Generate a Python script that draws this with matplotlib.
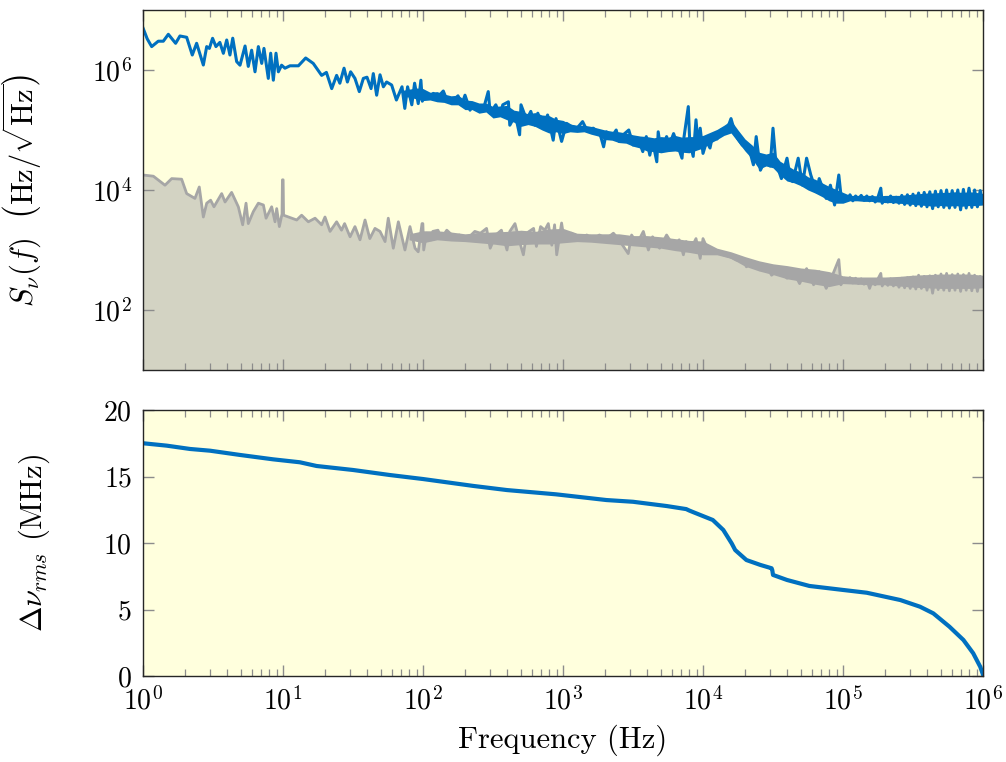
import numpy as np
import matplotlib
matplotlib.use('Agg')
import matplotlib.pyplot as plt

plt.rcParams['font.family'] = 'serif'
plt.rcParams['font.serif'] = ['cmr10']
plt.rcParams['mathtext.fontset'] = 'cm'
plt.rcParams['axes.unicode_minus'] = False
plt.rcParams['axes.formatter.use_mathtext'] = True

# --- spectrum of laser frequency noise (log10 f, log10 S) ---
blue_logf = [0.0, 0.03, 0.062, 0.109, 0.145, 0.181, 0.233, 0.264, 0.312, 0.352,
             0.383, 0.431, 0.455, 0.474, 0.497, 0.521, 0.549, 0.574, 0.598, 0.621,
             0.641, 0.669, 0.693, 0.729, 0.752, 0.776, 0.80, 0.824, 0.848, 0.864,
             0.895, 0.912, 0.931, 0.95, 0.967, 0.99, 1.014, 1.05, 1.11, 1.162,
             1.216, 1.276, 1.31, 1.348, 1.383, 1.406, 1.436, 1.46, 1.483, 1.514,
             1.545, 1.574, 1.60, 1.629, 1.645, 1.669, 1.693, 1.717, 1.74, 1.776,
             1.81, 1.85, 1.87, 1.89, 1.92, 1.94, 1.966, 1.985, 1.995, 2.01,
             2.026, 2.05, 2.074, 2.09, 2.11, 2.145, 2.17, 2.217, 2.25, 2.276,
             2.30, 2.336, 2.36, 2.383, 2.42, 2.44, 2.466, 2.48, 2.52, 2.55,
             2.57, 2.61, 2.62, 2.66, 2.69, 2.70, 2.74, 2.77, 2.80, 2.82,
             2.86, 2.89, 2.93, 2.95, 2.99, 3.026, 3.06, 3.10, 3.14, 3.17,
             3.216, 3.264, 3.29, 3.31, 3.35, 3.38, 3.40, 3.43, 3.47, 3.50,
             3.535, 3.57, 3.595, 3.62, 3.64, 3.67, 3.68, 3.70, 3.74, 3.76,
             3.79, 3.85, 3.86, 3.895, 3.905, 3.93, 3.95, 3.965, 3.98, 4.0,
             4.026, 4.05, 4.07, 4.10, 4.13, 4.16, 4.18, 4.20, 4.23, 4.25,
             4.28, 4.31, 4.335, 4.36, 4.38, 4.41, 4.45, 4.48, 4.50, 4.52,
             4.56, 4.60, 4.62, 4.64, 4.68, 4.71, 4.74, 4.77, 4.81, 4.83,
             4.86, 4.88, 4.91, 4.94, 4.97, 4.99, 5.01, 5.03, 5.05, 5.07,
             5.09, 5.11, 5.13, 5.15, 5.17, 5.19, 5.21, 5.23, 5.25, 5.27,
             5.28, 5.30, 5.32, 5.34, 5.36, 5.38, 5.40, 5.42, 5.44, 5.46,
             5.48, 5.50, 5.52, 5.54, 5.56, 5.58, 5.60, 5.62, 5.64, 5.66,
             5.68, 5.70, 5.72, 5.74, 5.76, 5.78, 5.80, 5.82, 5.84, 5.86,
             5.88, 5.90, 5.92, 5.94, 5.96, 5.98, 6.0]
blue_logS = [6.70, 6.52, 6.39, 6.48, 6.48, 6.595, 6.445, 6.567, 6.545, 6.25,
             6.445, 6.083, 6.39, 6.36, 6.528, 6.39, 6.46, 6.278, 6.50, 6.25,
             6.53, 6.14, 6.08, 6.40, 6.06, 6.33, 5.97, 6.39, 6.11, 6.36,
             5.86, 6.28, 5.83, 6.28, 5.97, 6.08, 6.03, 6.07, 6.07, 6.20,
             6.11, 5.91, 5.96, 5.69, 5.91, 5.78, 6.03, 5.80, 5.97, 5.86,
             5.64, 5.86, 5.88, 5.69, 5.94, 5.58, 5.92, 5.72, 5.80, 5.75,
             5.50, 5.72, 5.36, 5.72, 5.42, 5.78, 5.44, 5.83, 5.48, 5.62,
             5.58, 5.53, 5.61, 5.58, 5.56, 5.65, 5.50, 5.49, 5.57, 5.42,
             5.58, 5.33, 5.44, 5.36, 5.31, 5.42, 5.64, 5.28, 5.42, 5.25,
             5.42, 5.47, 5.08, 5.25, 4.92, 5.42, 5.17, 5.31, 5.08, 5.28,
             5.03, 5.25, 4.83, 5.19, 4.81, 5.11, 5.06, 5.03, 5.14, 5.00,
             5.03, 4.94, 4.72, 4.97, 4.89, 5.00, 4.81, 4.92, 5.00, 4.75,
             4.86, 4.64, 4.89, 4.58, 4.81, 4.47, 4.97, 4.64, 4.89, 4.75,
             4.94, 4.53, 4.81, 5.39, 4.81, 4.56, 5.17, 4.75, 5.03, 4.61,
             4.81, 4.70, 4.92, 4.85, 5.00, 4.95, 5.06, 5.19, 4.94, 4.85,
             4.75, 4.70, 4.64, 4.42, 4.89, 4.33, 4.53, 4.40, 5.03, 4.47,
             4.19, 4.53, 4.25, 4.14, 4.53, 4.08, 4.53, 4.25, 3.97, 4.19,
             4.00, 3.86, 4.08, 3.75, 4.25, 3.81, 3.89, 3.84, 3.92, 3.82,
             3.90, 3.85, 3.91, 3.83, 3.90, 3.82, 3.89, 3.80, 3.88, 4.03,
             3.78, 3.86, 3.80, 3.90, 3.79, 3.88, 3.78, 3.91, 3.76, 3.92,
             3.75, 3.93, 3.74, 3.95, 3.73, 3.96, 3.72, 3.97, 3.69, 3.98,
             3.72, 3.99, 3.71, 4.00, 3.70, 3.99, 3.71, 4.00, 3.67, 4.01,
             3.70, 4.03, 3.71, 4.00, 3.72, 3.99, 3.78]

# solid core of the blue trace where the samples are too dense to separate
blue_band_logf = [1.85, 1.90, 1.95, 2.00, 2.05, 2.10, 2.15, 2.20, 2.25, 2.30,
                  2.35, 2.40, 2.45, 2.50, 2.55, 2.60, 2.65, 2.70, 2.75, 2.80,
                  2.85, 2.90, 2.95, 3.00, 3.05, 3.10, 3.15, 3.20, 3.25, 3.30,
                  3.35, 3.40, 3.45, 3.50, 3.55, 3.60, 3.65, 3.70, 3.75, 3.80,
                  3.85, 3.90, 3.95, 4.00, 4.05, 4.10, 4.15, 4.20, 4.25, 4.30,
                  4.35, 4.40, 4.45, 4.50, 4.55, 4.60, 4.65, 4.70, 4.75, 4.80,
                  4.85, 4.90, 4.95, 5.00, 5.05, 5.10, 5.15, 5.20, 5.25, 5.30,
                  5.35, 5.40, 5.45, 5.50, 5.55, 5.60, 5.65, 5.70, 5.75, 5.80,
                  5.85, 5.90, 5.95, 6.00]
blue_band_lo = [5.56, 5.55, 5.52, 5.49, 5.50, 5.47, 5.46, 5.42, 5.42, 5.34,
                5.34, 5.28, 5.30, 5.20, 5.22, 5.17, 5.13, 5.06, 5.09, 5.06,
                5.00, 4.95, 4.97, 4.94, 4.97, 4.96, 4.97, 4.93, 4.90, 4.84,
                4.83, 4.79, 4.78, 4.73, 4.70, 4.65, 4.64, 4.62, 4.64, 4.65,
                4.63, 4.62, 4.66, 4.70, 4.78, 4.84, 4.91, 4.95, 4.80, 4.65,
                4.52, 4.35, 4.40, 4.37, 4.25, 4.15, 4.12, 4.07, 4.00, 3.95,
                3.89, 3.82, 3.78, 3.78, 3.82, 3.82, 3.81, 3.81, 3.80, 3.79,
                3.79, 3.78, 3.77, 3.76, 3.75, 3.74, 3.73, 3.74, 3.73, 3.74,
                3.73, 3.74, 3.74, 3.75]
blue_band_hi = [5.66, 5.68, 5.70, 5.69, 5.63, 5.64, 5.60, 5.57, 5.58, 5.50,
                5.49, 5.45, 5.45, 5.39, 5.40, 5.41, 5.33, 5.31, 5.27, 5.29,
                5.25, 5.24, 5.18, 5.16, 5.10, 5.08, 5.08, 5.06, 5.03, 5.00,
                4.98, 4.97, 4.95, 4.92, 4.90, 4.89, 4.87, 4.89, 4.88, 4.91,
                4.88, 4.89, 4.89, 4.91, 4.96, 5.01, 5.08, 5.16, 5.00, 4.85,
                4.75, 4.63, 4.60, 4.63, 4.48, 4.41, 4.34, 4.30, 4.22, 4.18,
                4.12, 4.06, 4.01, 3.96, 3.91, 3.91, 3.91, 3.91, 3.90, 3.91,
                3.91, 3.91, 3.92, 3.93, 3.94, 3.95, 3.95, 3.96, 3.96, 3.97,
                3.96, 3.97, 3.96, 3.94]

# --- measurement noise floor ---
gray_logf = [0.0, 0.074, 0.157, 0.205, 0.276, 0.312, 0.371, 0.402, 0.431, 0.455,
             0.483, 0.507, 0.562, 0.586, 0.633, 0.681, 0.712, 0.736, 0.752, 0.788,
             0.824, 0.86, 0.879, 0.919, 0.943, 0.955, 0.974, 0.993, 0.996, 1.001,
             1.004, 1.062, 1.098, 1.133, 1.181, 1.229, 1.276, 1.30, 1.336, 1.383,
             1.418, 1.44, 1.479, 1.514, 1.55, 1.586, 1.62, 1.657, 1.693, 1.729,
             1.752, 1.788, 1.824, 1.871, 1.907, 1.943, 1.966, 1.993, 1.999, 2.005,
             2.026, 2.06, 2.07, 2.107, 2.13, 2.17, 2.22, 2.26, 2.31, 2.37,
             2.41, 2.454, 2.48, 2.52, 2.56, 2.60, 2.62, 2.657, 2.69, 2.717,
             2.74, 2.79, 2.81, 2.84, 2.87, 2.895, 2.92, 2.94, 2.955, 2.99,
             3.01, 3.06, 3.12, 3.17, 3.21, 3.26, 3.31, 3.36, 3.40, 3.466,
             3.49, 3.53, 3.574, 3.61, 3.64, 3.69, 3.74, 3.79, 3.83, 3.86,
             3.88, 3.91, 3.95, 3.98, 4.00, 4.03, 4.07, 4.10, 4.145, 4.19,
             4.24, 4.29, 4.31, 4.36, 4.41, 4.45, 4.49, 4.55, 4.60, 4.64,
             4.69, 4.74, 4.79, 4.83, 4.88, 4.93, 4.97, 4.985, 5.01, 5.03,
             5.05, 5.07, 5.09, 5.11, 5.13, 5.15, 5.17, 5.19, 5.21, 5.23,
             5.25, 5.27, 5.28, 5.30, 5.32, 5.34, 5.36, 5.38, 5.40, 5.42,
             5.44, 5.46, 5.48, 5.50, 5.52, 5.54, 5.56, 5.58, 5.60, 5.62,
             5.64, 5.66, 5.68, 5.70, 5.72, 5.74, 5.76, 5.78, 5.80, 5.82,
             5.84, 5.86, 5.88, 5.90, 5.92, 5.94, 5.96, 5.98, 6.0]
gray_logS = [4.25, 4.23, 4.08, 4.19, 4.18, 3.94, 3.86, 4.05, 3.55, 3.78,
             3.83, 3.72, 3.94, 3.80, 3.96, 3.72, 3.42, 3.78, 3.44, 3.64,
             3.78, 3.75, 3.53, 3.72, 3.47, 3.69, 3.39, 3.60, 4.17, 4.17,
             3.58, 3.53, 3.50, 3.58, 3.47, 3.53, 3.42, 3.55, 3.31, 3.47,
             3.33, 3.44, 3.22, 3.39, 3.17, 3.50, 3.19, 3.36, 3.31, 3.14,
             3.53, 3.03, 3.47, 3.00, 3.39, 3.03, 2.97, 3.44, 3.44, 3.00,
             3.28, 3.17, 3.31, 3.33, 3.19, 3.33, 3.22, 3.25, 3.17, 3.31,
             3.28, 3.36, 3.03, 3.25, 3.33, 3.00, 3.31, 3.44, 3.14, 2.92,
             3.28, 3.36, 3.06, 3.39, 3.33, 3.44, 3.08, 3.42, 2.92, 3.45,
             3.14, 3.28, 3.19, 3.25, 3.17, 3.25, 3.19, 3.28, 3.17, 2.94,
             3.25, 3.11, 3.31, 3.00, 3.22, 3.03, 3.25, 3.06, 3.17, 2.92,
             3.14, 3.00, 3.19, 2.86, 3.19, 3.03, 3.00, 2.97, 2.92, 2.89,
             2.83, 2.86, 2.72, 2.81, 2.67, 2.75, 2.58, 2.69, 2.53, 2.67,
             2.44, 2.69, 2.42, 2.64, 2.36, 2.61, 2.84, 2.42, 2.53, 2.47,
             2.54, 2.45, 2.53, 2.44, 2.52, 2.43, 2.51, 2.36, 2.50, 2.42,
             2.52, 2.61, 2.40, 2.50, 2.41, 2.52, 2.40, 2.51, 2.38, 2.53,
             2.37, 2.54, 2.36, 2.55, 2.35, 2.58, 2.36, 2.56, 2.33, 2.57,
             2.28, 2.58, 2.34, 2.60, 2.33, 2.61, 2.32, 2.59, 2.33, 2.60,
             2.31, 2.59, 2.33, 2.61, 2.32, 2.58, 2.31, 2.56, 2.40]

gray_band_logf = [1.9, 2.0, 2.1, 2.2, 2.3, 2.4, 2.5, 2.6, 2.7, 2.8,
                  2.9, 3.0, 3.1, 3.2, 3.3, 3.4, 3.5, 3.6, 3.7, 3.8,
                  3.9, 4.0, 4.1, 4.2, 4.3, 4.4, 4.5, 4.6, 4.7, 4.8,
                  4.9, 5.0, 5.1, 5.2, 5.3, 5.4, 5.5, 5.6, 5.7, 5.8, 5.9, 6.0]
gray_band_lo = [3.17, 3.12, 3.17, 3.15, 3.14, 3.12, 3.10, 3.07, 3.09, 3.10,
                3.10, 3.12, 3.14, 3.13, 3.11, 3.09, 3.07, 3.05, 3.03, 2.99,
                2.96, 2.92, 2.92, 2.86, 2.73, 2.65, 2.59, 2.52, 2.48, 2.43,
                2.39, 2.44, 2.43, 2.42, 2.42, 2.40, 2.38, 2.37, 2.36, 2.36, 2.36, 2.37]
gray_band_hi = [3.27, 3.32, 3.32, 3.30, 3.27, 3.29, 3.30, 3.31, 3.33, 3.31,
                3.35, 3.36, 3.28, 3.27, 3.27, 3.27, 3.24, 3.24, 3.22, 3.19,
                3.16, 3.15, 3.03, 2.97, 2.89, 2.82, 2.77, 2.74, 2.70, 2.68,
                2.64, 2.57, 2.55, 2.55, 2.55, 2.56, 2.58, 2.59, 2.60, 2.60, 2.60, 2.58]

# --- integrated rms linewidth (MHz) ---
rms_logf = [0, 0.169, 0.336, 0.479, 0.693, 0.93, 1.12, 1.24, 1.5, 1.764,
            2.0, 2.36, 2.6, 2.95, 3.31, 3.5, 3.74, 3.88, 3.9, 3.93,
            4.07, 4.145, 4.205, 4.23, 4.31, 4.41, 4.49, 4.495, 4.5, 4.6,
            4.76, 5.0, 5.17, 5.41, 5.55, 5.645, 5.76, 5.86, 5.93, 5.98, 6.0]
rms_mhz = [17.5, 17.32, 17.07, 16.94, 16.62, 16.29, 16.07, 15.79, 15.49, 15.11,
           14.81, 14.29, 13.98, 13.66, 13.23, 13.1, 12.78, 12.55, 12.45, 12.32,
           11.73, 10.98, 9.97, 9.47, 8.72, 8.35, 8.1, 7.95, 7.6, 7.22,
           6.77, 6.47, 6.26, 5.71, 5.21, 4.71, 3.71, 2.71, 1.71, 0.7, 0.1]

blue = '#0070C0'
gray_line = '#A6A6A6'
gray_fill = '#D3D3C3'
bg = '#FFFFDD'

fig = plt.figure(figsize=(10.06, 7.62), dpi=100)
ax1 = fig.add_axes([143/1006, 1-370/762, 840/1006, 360/762])
ax2 = fig.add_axes([143/1006, 1-676/762, 840/1006, 266/762])

tf = lambda v: 10**np.asarray(v, dtype=float)

ax1.set_facecolor(bg)
ax1.fill_between(tf(gray_logf), 10, tf(gray_logS), color=gray_fill, lw=0)
ax1.fill_between(tf(gray_band_logf), tf(gray_band_lo), tf(gray_band_hi), color=gray_line, lw=0)
ax1.plot(tf(gray_logf), tf(gray_logS), color=gray_line, lw=2.0)
ax1.fill_between(tf(blue_band_logf), tf(blue_band_lo), tf(blue_band_hi), color=blue, lw=0)
ax1.plot(tf(blue_logf), tf(blue_logS), color=blue, lw=2.2)

ax1.set_xscale('log')
ax1.set_yscale('log')
ax1.set_xlim(1, 1e6)
ax1.set_ylim(10, 1e7)
ax1.set_yticks([1e2, 1e4, 1e6])
ax1.yaxis.set_minor_locator(matplotlib.ticker.NullLocator())
ax1.tick_params(labelbottom=False)
ax1.set_ylabel(r'$S_\nu(f)\ \ \left(\mathrm{Hz}/\sqrt{\mathrm{Hz}}\right)$', fontsize=22)
ax1.yaxis.set_label_coords(-0.118, 0.5)

ax2.set_facecolor(bg)
ax2.plot(tf(rms_logf), rms_mhz, color=blue, lw=3)
ax2.set_xscale('log')
ax2.set_xlim(1, 1e6)
ax2.set_ylim(0, 20)
ax2.set_yticks([0, 5, 10, 15, 20])
ax2.set_ylabel(r'$\Delta\nu_{rms}$ (MHz)', fontsize=22)
ax2.yaxis.set_label_coords(-0.108, 0.5)
ax2.set_xlabel('Frequency (Hz)', fontsize=22, labelpad=6)

for ax in (ax1, ax2):
    ax.xaxis.set_minor_locator(matplotlib.ticker.LogLocator(base=10, subs=np.arange(2, 10), numticks=20))
    ax.tick_params(which='both', direction='in', top=True, right=True,
                   color='#8C8C8C', labelsize=20, pad=8)
    ax.tick_params(which='major', length=8, width=1)
    ax.tick_params(which='minor', length=5, width=0.9)
    for s in ax.spines.values():
        s.set_color('#262626')
        s.set_linewidth(1)

fig.savefig('out.png', dpi=100)
